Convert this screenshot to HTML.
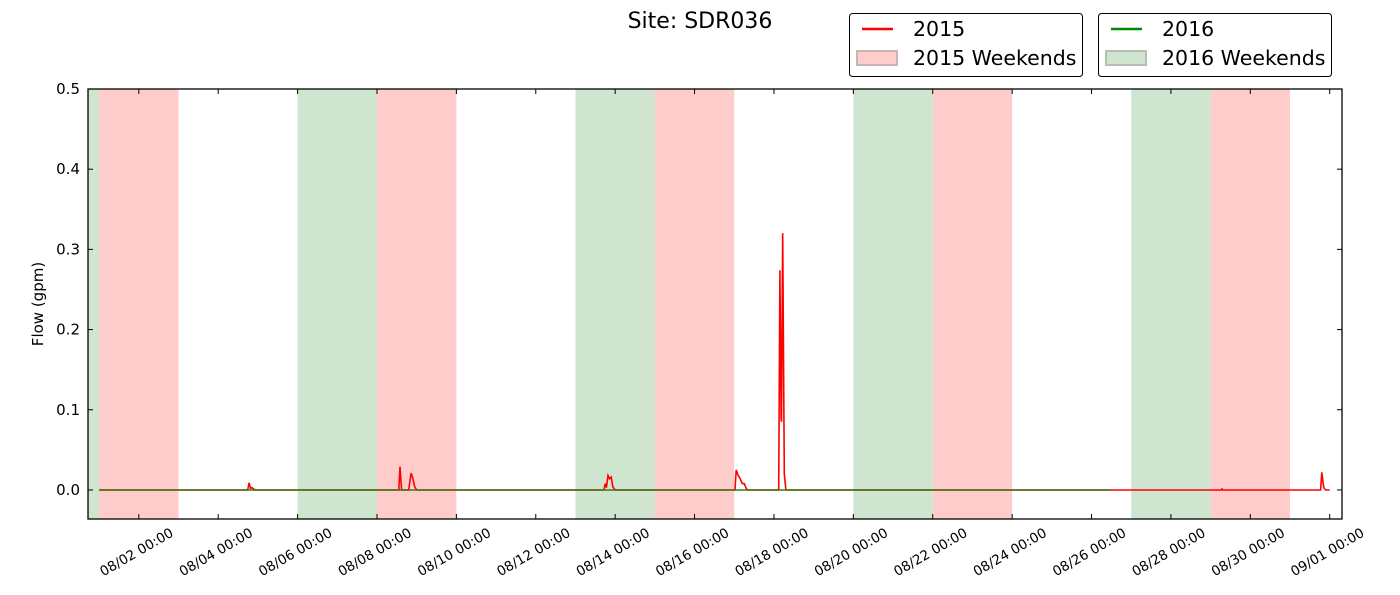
<!DOCTYPE html>
<html><head><meta charset="utf-8"><style>
body{margin:0;background:#fff;}
svg{display:block;font-family:"DejaVu Sans","Liberation Sans",sans-serif;}
</style></head><body>
<svg id="chart" width="1400" height="595" viewBox="0 0 1400 595" xmlns="http://www.w3.org/2000/svg">
<text x="700" y="28" font-size="22" text-anchor="middle">Site: SDR036</text>
<text transform="translate(43,304) rotate(-90)" font-size="15" text-anchor="middle">Flow (gpm)</text>
<g id="plot"></g>
<g>
<rect x="849.5" y="13.5" width="233" height="63" rx="3" fill="#fff" stroke="#000"/>
<line x1="862" y1="29" x2="893" y2="29" stroke="#f00" stroke-width="2.5"/>
<text x="913" y="36" font-size="20.5">2015</text>
<rect x="857" y="51" width="40" height="14" fill="#fcc" stroke="#c8b4b4" stroke-width="2"/>
<text x="913" y="65" font-size="20.5">2015 Weekends</text>
</g>
<g>
<rect x="1098.5" y="13.5" width="233" height="63" rx="3" fill="#fff" stroke="#000"/>
<line x1="1111" y1="29" x2="1142" y2="29" stroke="#080" stroke-width="2.5"/>
<text x="1162" y="36" font-size="20.5">2016</text>
<rect x="1106" y="51" width="40" height="14" fill="#cfe5cf" stroke="#b4c0b4" stroke-width="2"/>
<text x="1162" y="65" font-size="20.5">2016 Weekends</text>
</g>
</svg>
<script>
const tickDays=[1,3,5,7,9,11,13,15,17,19,21,23,25,27,29,31];
const tickLabels=["08/02 00:00","08/04 00:00","08/06 00:00","08/08 00:00","08/10 00:00","08/12 00:00","08/14 00:00","08/16 00:00","08/18 00:00","08/20 00:00","08/22 00:00","08/24 00:00","08/26 00:00","08/28 00:00","08/30 00:00","09/01 00:00"];
const yTicks=[0.0,0.1,0.2,0.3,0.4,0.5];
const weekends2015=[[0,2],[7,9],[14,16],[21,23],[28,30]];
const weekends2016=[[-2,0],[5,7],[12,14],[19,21],[26,28]];
const days2015=[0,3.74,3.78,3.81,3.85,3.9,3.95,7.55,7.58,7.62,7.8,7.86,7.9,7.95,8.0,12.72,12.75,12.78,12.82,12.86,12.9,12.94,12.97,13.0,16.02,16.05,16.1,16.15,16.2,16.25,16.3,16.33,17.12,17.15,17.18,17.19,17.22,17.26,17.3,28.28,28.29,28.3,30.77,30.8,30.85,30.9,31];
const vals2015=[0,0,0.009,0.002,0.003,0.001,0,0,0.029,0,0,0.021,0.015,0.004,0,0,0.008,0.003,0.018,0.014,0.016,0.004,0.002,0,0,0.025,0.018,0.014,0.008,0.008,0.002,0,0,0.274,0.09,0.085,0.32,0.02,0,0,0.002,0,0,0.022,0.003,0,0];
const days2016=[0,25.47];
const vals2016=[0,0];
const X0=88,X1=1342,Y0=89,Y1=519;
const dMin=-0.28,dMax=31.31,vMin=-0.0362,vMax=0.5;
const xs=d=>X0+(d-dMin)/(dMax-dMin)*(X1-X0);
const ys=v=>Y1-(v-vMin)/(vMax-vMin)*(Y1-Y0);
const NS="http://www.w3.org/2000/svg";
const plot=document.getElementById('plot');
function mk(t,a){const e=document.createElementNS(NS,t);for(const k in a)e.setAttribute(k,a[k]);plot.appendChild(e);return e;}
const clip=document.createElementNS(NS,'clipPath');clip.setAttribute('id','cp');
const cr=document.createElementNS(NS,'rect');cr.setAttribute('x',X0);cr.setAttribute('y',Y0);cr.setAttribute('width',X1-X0);cr.setAttribute('height',Y1-Y0);clip.appendChild(cr);plot.appendChild(clip);
const g=mk('g',{'clip-path':'url(#cp)'});
function band(w,fill,name){const r=document.createElementNS(NS,'rect');r.setAttribute('x',xs(w[0]));r.setAttribute('y',Y0);r.setAttribute('width',xs(w[1])-xs(w[0]));r.setAttribute('height',Y1-Y0);r.setAttribute('fill',fill);


g.appendChild(r);}
weekends2015.forEach(w=>band(w,'#fcc','weekend-2015'));
weekends2016.forEach(w=>band(w,'#cfe5cf','weekend-2016'));
function line(ds,vs,col,name){const p=document.createElementNS(NS,'polyline');p.setAttribute('points',ds.map((d,i)=>xs(d).toFixed(1)+','+ys(vs[i]).toFixed(1)).join(' '));p.setAttribute('fill','none');p.setAttribute('stroke',col);p.setAttribute('stroke-width','1.6');


g.appendChild(p);}
line(days2015,vals2015,'#f00','line-2015');
line(days2016,vals2016,'#3a7a10','line-2016');
const ax=mk('rect',{x:X0,y:Y0,width:X1-X0,height:Y1-Y0,fill:'none',stroke:'#000','stroke-width':1.3});


tickDays.forEach((d,i)=>{const x=xs(d);
mk('line',{x1:x,y1:Y1,x2:x,y2:Y1-5,stroke:'#000'});mk('line',{x1:x,y1:Y0,x2:x,y2:Y0+5,stroke:'#000'});
const t=mk('text',{x:0,y:0,'font-size':13.5,'text-anchor':'middle',transform:`translate(${x},${556}) rotate(-30)`});t.textContent=tickLabels[i];

});
yTicks.forEach(v=>{const y=ys(v);
mk('line',{x1:X0,y1:y,x2:X0+5,y2:y,stroke:'#000'});mk('line',{x1:X1,y1:y,x2:X1-5,y2:y,stroke:'#000'});
const t=mk('text',{x:X0-8,y:y+5,'font-size':15,'text-anchor':'end'});t.textContent=v.toFixed(1);

});
</script>
</body></html>
